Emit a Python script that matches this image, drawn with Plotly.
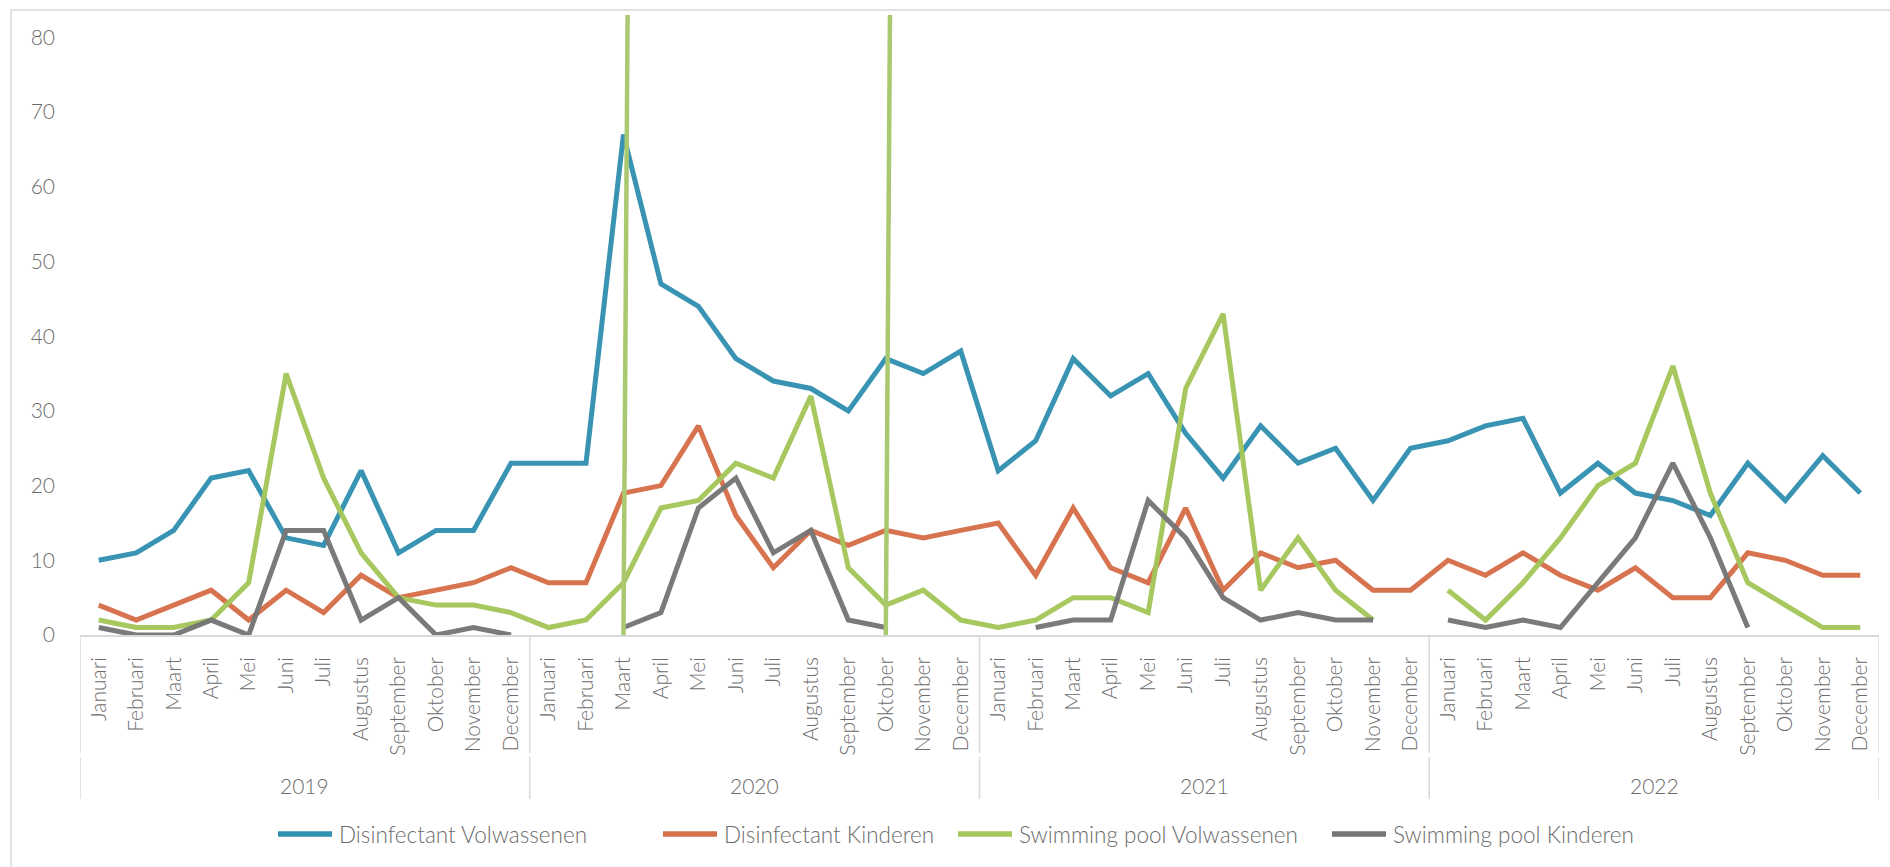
import plotly.graph_objects as go

# ---------------- data ----------------
years = ["2019", "2020", "2021", "2022"]
months = ["Januari", "Februari", "Maart", "April", "Mei", "Juni", "Juli",
          "Augustus", "September", "Oktober", "November", "December"]

dis_volwassenen = [10, 11, 14, 21, 22, 13, 12, 22, 11, 14, 14, 23,
                   23, 23, 67, 47, 44, 37, 34, 33, 30, 37, 35, 38,
                   22, 26, 37, 32, 35, 27, 21, 28, 23, 25, 18, 25,
                   26, 28, 29, 19, 23, 19, 18, 16, 23, 18, 24, 19]
dis_kinderen = [4, 2, 4, 6, 2, 6, 3, 8, 5, 6, 7, 9,
                7, 7, 19, 20, 28, 16, 9, 14, 12, 14, 13, 14,
                15, 8, 17, 9, 7, 17, 6, 11, 9, 10, 6, 6,
                10, 8, 11, 8, 6, 9, 5, 5, 11, 10, 8, 8]
pool_volwassenen = [2, 1, 1, 2, 7, 35, 21, 11, 5, 4, 4, 3,
                    1, 2, 7, 17, 18, 23, 21, 32, 9, 4, 6, 2,
                    1, 2, 5, 5, 3, 33, 43, 6, 13, 6, 2, None,
                    6, 2, 7, 13, 20, 23, 36, 19, 7, 4, 1, 1]
pool_kinderen = [1, 0, 0, 2, 0, 14, 14, 2, 5, 0, 1, 0,
                 None, None, 1, 3, 17, 21, 11, 14, 2, 1, None, None,
                 None, 1, 2, 2, 18, 13, 5, 2, 3, 2, 2, None,
                 2, 1, 2, 1, 7, 13, 23, 13, 1, None, None, None]

# months where the green series shoots far off the chart
event_months = [("2020", "Maart"), ("2020", "Oktober")]
event_range = [0, 90]

series_names = ["Disinfectant Volwassenen", "Disinfectant Kinderen",
                "Swimming pool Volwassenen", "Swimming pool Kinderen"]
series_values = [dis_volwassenen, dis_kinderen, pool_volwassenen, pool_kinderen]
colors = ["#3291B0", "#D6704A", "#A5C65A", "#767676"]
event_color = "#A9C870"

y_ticks = [0, 10, 20, 30, 40, 50, 60, 70, 80]

# ---------------- layout geometry (pixels) ----------------
W, H = 1890, 867
L, R, T, B = 80, 11, 15, 232
PW, PH = W - L - R, H - T - B
axis_px = H - B


def py(p):  # pixel y -> paper y
    return (axis_px - p) / PH


def px(p):  # pixel x -> paper x
    return (p - L) / PW


n = len(years) * len(months)
x_idx = list(range(n))
tick_text = [m for y in years for m in months]

fig = go.Figure()
for name, vals, col in zip(series_names, series_values, colors):
    fig.add_trace(go.Scatter(x=x_idx, y=vals, mode="lines", name=name,
                             line=dict(color=col, width=5),
                             connectgaps=False, showlegend=False,
                             opacity=0.97))

tilt = 0.12
for (yr, mo) in event_months:
    i = years.index(yr) * len(months) + months.index(mo)
    fig.add_trace(go.Scatter(x=[i, i + tilt], y=event_range, mode="lines",
                             line=dict(color=event_color, width=4.5),
                             showlegend=False, hoverinfo="skip"))

font_family = "Lato"
txt_color = "#6C6C6C"
grid_color = "#D9D9D9"

fig.update_layout(
    width=W, height=H,
    margin=dict(l=L, r=R, t=T, b=B),
    paper_bgcolor="white", plot_bgcolor="white",
    font=dict(family=font_family, size=21, color=txt_color, weight=300),
    showlegend=False,
)
fig.update_xaxes(range=[-0.5, n - 0.5], tickvals=x_idx, ticktext=tick_text,
                 tickangle=-90, showgrid=False, zeroline=False,
                 showline=True, linecolor=grid_color, linewidth=1.5,
                 ticks="", ticklabelstandoff=12,
                 tickfont=dict(family=font_family, size=21, color=txt_color, weight=300))
fig.update_yaxes(range=[0, 83], tickvals=y_ticks, showgrid=False,
                 zeroline=False, showline=False, ticks="",
                 ticklabelstandoff=24,
                 tickfont=dict(family=font_family, size=21, color=txt_color, weight=300))

shapes = []
# category box dividers
for k in range(len(years) + 1):
    xv = k * len(months) - 0.5
    for (a, b) in [(axis_px, 753), (757, 799)]:
        shapes.append(dict(type="line", xref="x", yref="paper", x0=xv, x1=xv,
                           y0=py(a), y1=py(b),
                           line=dict(color=grid_color, width=1.5)))
# outer chart frame
shapes.append(dict(type="rect", xref="paper", yref="paper",
                   x0=px(11), x1=px(W + 20), y0=py(10), y1=py(H + 20),
                   line=dict(color=grid_color, width=1.5), layer="below"))

annotations = []
for k, yr in enumerate(years):
    annotations.append(dict(x=k * len(months) + (len(months) - 1) / 2,
                            y=py(785), xref="x", yref="paper", text=yr,
                            showarrow=False, yanchor="middle",
                            font=dict(family=font_family, size=21,
                                      color=txt_color, weight=300)))

# legend (manual)
legend_x = [278, 663, 958, 1332]
legend_y = py(834)
for lx, name, col in zip(legend_x, series_names, colors):
    shapes.append(dict(type="line", xref="paper", yref="paper",
                       x0=px(lx), x1=px(lx + 54), y0=legend_y, y1=legend_y,
                       line=dict(color=col, width=5.5)))
    annotations.append(dict(x=px(lx + 59), y=legend_y, xref="paper", yref="paper",
                            text=name, showarrow=False, xanchor="left",
                            yanchor="middle",
                            font=dict(family=font_family, size=22.5,
                                      color=txt_color, weight=300)))

fig.update_layout(shapes=shapes, annotations=annotations)
fig.write_html("out.html")
